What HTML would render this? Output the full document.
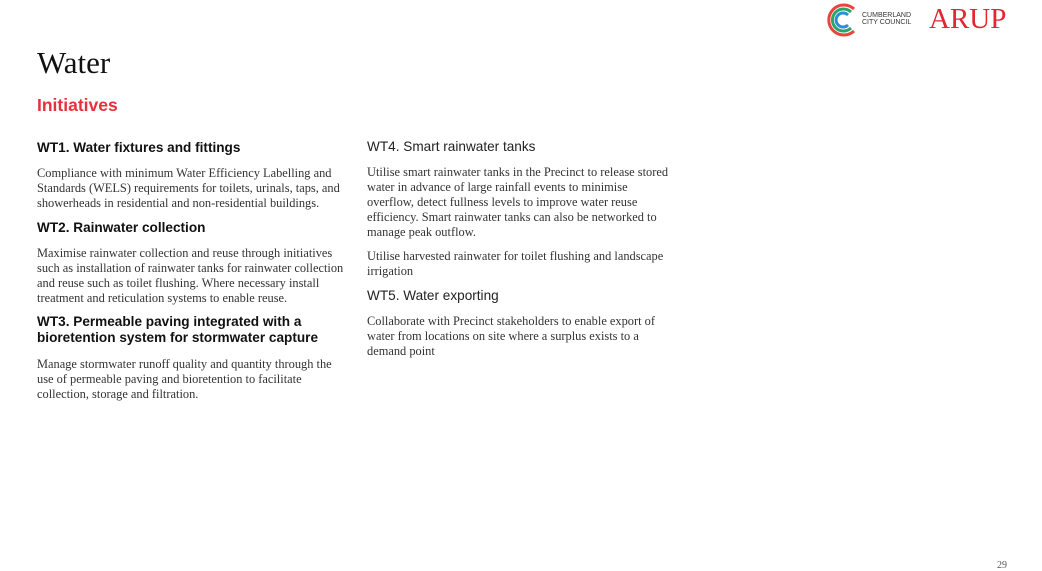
<!DOCTYPE html>
<html><head><meta charset="utf-8"><style>
body{margin:0;width:1042px;height:567px;background:#fff;position:relative;overflow:hidden;font-family:"Liberation Serif",serif;color:#222}
.a{position:absolute;white-space:nowrap}
.h{font-family:"Liberation Sans",sans-serif;font-size:13.6px;font-weight:bold;color:#111;line-height:16px}
.h2{font-family:"Liberation Sans",sans-serif;font-size:13.6px;color:#222;line-height:16px}
.b{font-size:12.4px;line-height:15px;color:#333}
</style></head><body>
<div class="a" style="left:37px;top:44px;font-size:31px;color:#111;line-height:38px">Water</div>
<div class="a" style="left:37px;top:95px;font-family:'Liberation Sans',sans-serif;font-weight:bold;font-size:17.5px;color:#e8303a;line-height:20px">Initiatives</div>

<div class="a h" style="left:37px;top:140px">WT1. Water fixtures and fittings</div>
<div class="a b" style="left:37px;top:166px">Compliance with minimum Water Efficiency Labelling and<br>Standards (WELS) requirements for toilets, urinals, taps, and<br>showerheads in residential and non-residential buildings.</div>
<div class="a h" style="left:37px;top:220px">WT2. Rainwater collection</div>
<div class="a b" style="left:37px;top:246px">Maximise rainwater collection and reuse through initiatives<br>such as installation of rainwater tanks for rainwater collection<br>and reuse such as toilet flushing. Where necessary install<br>treatment and reticulation systems to enable reuse.</div>
<div class="a h" style="left:37px;top:314px">WT3. Permeable paving integrated with a<br>bioretention system for stormwater capture</div>
<div class="a b" style="left:37px;top:357px">Manage stormwater runoff quality and quantity through the<br>use of permeable paving and bioretention to facilitate<br>collection, storage and filtration.</div>

<div class="a h2" style="left:367px;top:139px">WT4. Smart rainwater tanks</div>
<div class="a b" style="left:367px;top:165px">Utilise smart rainwater tanks in the Precinct to release stored<br>water in advance of large rainfall events to minimise<br>overflow, detect fullness levels to improve water reuse<br>efficiency. Smart rainwater tanks can also be networked to<br>manage peak outflow.</div>
<div class="a b" style="left:367px;top:249px">Utilise harvested rainwater for toilet flushing and landscape<br>irrigation</div>
<div class="a h2" style="left:367px;top:288px">WT5. Water exporting</div>
<div class="a b" style="left:367px;top:314px">Collaborate with Precinct stakeholders to enable export of<br>water from locations on site where a surplus exists to a<br>demand point</div>

<svg class="a" style="left:826px;top:1px" width="36" height="38" viewBox="0 0 36 38">
<path d="M28 8 A15 15 0 1 0 28 30" fill="none" stroke="#e8453c" stroke-width="3"/>
<path d="M25 11 A11 11 0 1 0 25 27" fill="none" stroke="#2aa56b" stroke-width="3"/>
<path d="M22 14 A7 7 0 1 0 22 24" fill="none" stroke="#2a8fd6" stroke-width="3"/>
</svg>
<div class="a" style="left:862px;top:12px;font-family:'Liberation Sans',sans-serif;font-size:7px;line-height:7px;color:#333">CUMBERLAND<br>CITY COUNCIL</div>
<div class="a" style="left:929px;top:3px;font-size:29px;color:#e3262f;line-height:32px">ARUP</div>
<div class="a" style="left:997px;top:560px;font-size:10px;color:#555">29</div>
</body></html>
